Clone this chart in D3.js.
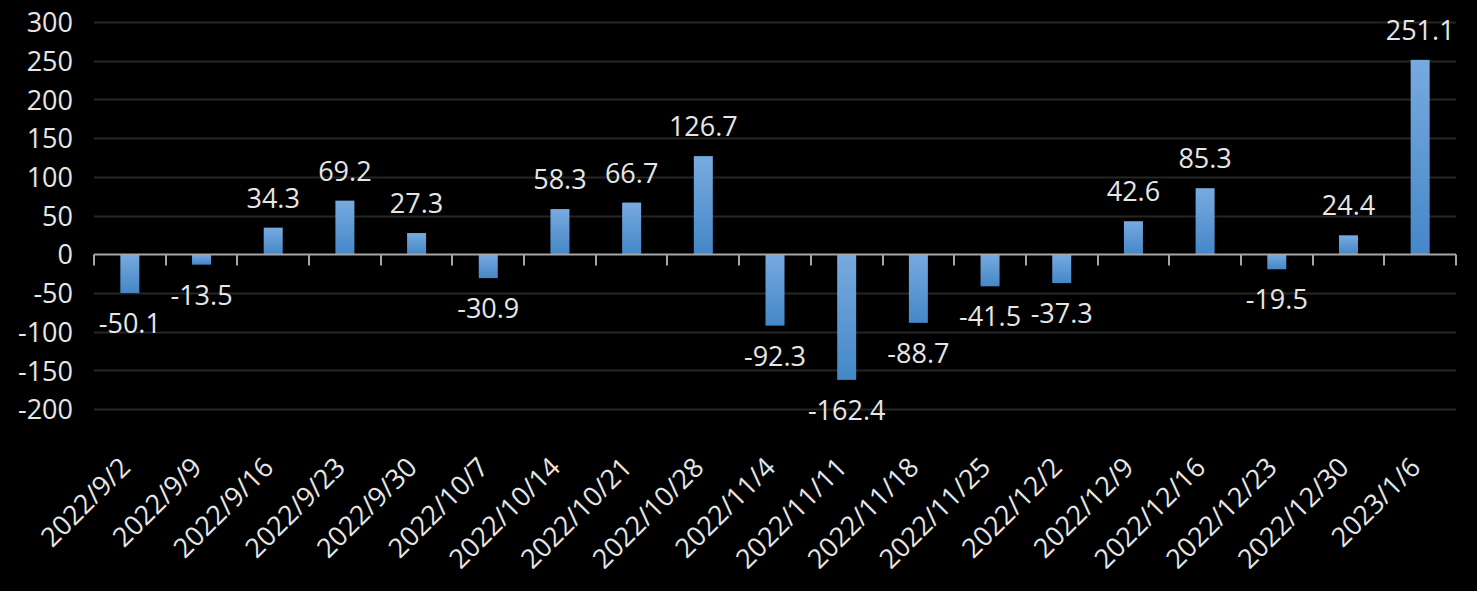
<!DOCTYPE html>
<html>
<head>
<meta charset="utf-8">
<script src="https://cdn.jsdelivr.net/npm/d3@7"></script>
<style>
  html, body { margin: 0; padding: 0; background: #000; }
  svg { display: block; }
  text { font-family: "Open Sans", "Noto Sans", sans-serif; fill: #e6e6e6; }
</style>
</head>
<body>
<svg id="chart" width="1477" height="591"></svg>
<script>
const categories = ["2022/9/2","2022/9/9","2022/9/16","2022/9/23","2022/9/30","2022/10/7","2022/10/14","2022/10/21","2022/10/28","2022/11/4","2022/11/11","2022/11/18","2022/11/25","2022/12/2","2022/12/9","2022/12/16","2022/12/23","2022/12/30","2023/1/6"];
const values = [-50.1, -13.5, 34.3, 69.2, 27.3, -30.9, 58.3, 66.7, 126.7, -92.3, -162.4, -88.7, -41.5, -37.3, 42.6, 85.3, -19.5, 24.4, 251.1];
const yTicks = [-200, -150, -100, -50, 0, 50, 100, 150, 200, 250, 300];

const W = 1477, H = 591;
const m = { left: 94, right: 21, top: 22, bottom: 182 };
const svg = d3.select("#chart");

const x = d3.scaleBand().domain(categories).range([m.left, W - m.right]).paddingInner(0).paddingOuter(0);
const y = d3.scaleLinear().domain([-200, 300]).range([H - m.bottom, m.top]);

const defs = svg.append("defs");
const grad = defs.append("linearGradient").attr("id", "barGrad")
  .attr("x1", 0).attr("y1", 0).attr("x2", 0).attr("y2", 1);
grad.append("stop").attr("offset", "0%").attr("stop-color", "#78aadf");
grad.append("stop").attr("offset", "100%").attr("stop-color", "#4487c8");

// gridlines
svg.append("g").selectAll("line").data(yTicks.filter(d => d !== 0)).join("line")
  .attr("x1", m.left).attr("x2", W - m.right)
  .attr("y1", d => Math.round(y(d)) + 0.5).attr("y2", d => Math.round(y(d)) + 0.5)
  .attr("stroke", "#262626").attr("stroke-width", 2);

// y axis labels
const yAxis = d3.axisLeft(y).tickValues(yTicks).tickSize(0).tickPadding(21).tickFormat(d => String(d));
const gy = svg.append("g").attr("transform", `translate(${m.left},0)`).call(yAxis);
gy.select(".domain").remove();
gy.selectAll("text").attr("font-size", 27).attr("fill", "#e6e6e6")
  .attr("font-family", "'Open Sans', sans-serif").attr("dy", "0.36em");

// bars
const bw = x.bandwidth() * 0.265;
svg.append("g").selectAll("rect").data(values).join("rect")
  .attr("x", (d, i) => x(categories[i]) + x.bandwidth() / 2 - bw / 2)
  .attr("width", bw)
  .attr("y", d => y(Math.max(0, d)))
  .attr("height", d => Math.abs(y(d) - y(0)))
  .attr("fill", "url(#barGrad)");

// zero axis line + ticks
const y0 = Math.round(y(0)) + 0.5;
const ga = svg.append("g");
ga.append("line").attr("x1", m.left).attr("x2", W - m.right).attr("y1", y0).attr("y2", y0)
  .attr("stroke", "#a6a6a6").attr("stroke-width", 2);
const bounds = categories.map(c => x(c)).concat([W - m.right]);
ga.selectAll("line.tk").data(bounds).join("line").attr("class", "tk")
  .attr("x1", d => Math.round(d)).attr("x2", d => Math.round(d))
  .attr("y1", y0).attr("y2", y0 + 11)
  .attr("stroke", "#a6a6a6").attr("stroke-width", 2);

// data labels
svg.append("g").selectAll("text").data(values).join("text")
  .attr("x", (d, i) => x(categories[i]) + x.bandwidth() / 2)
  .attr("y", d => d >= 0 ? y(d) - 20 : y(d) + 40)
  .attr("text-anchor", "middle")
  .attr("font-size", 27)
  .text(d => d.toFixed(1));

// x labels
svg.append("g").selectAll("text").data(categories).join("text")
  .attr("transform", c => `translate(${x(c) + x.bandwidth() / 2 + 2},${469}) rotate(-45)`)
  .attr("text-anchor", "end")
  .attr("font-size", 27)
  .text(c => c);
</script>
</body>
</html>
